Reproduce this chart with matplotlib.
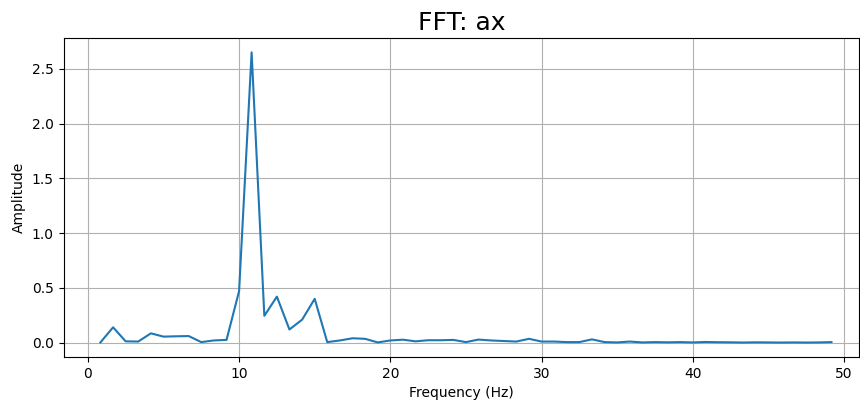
import matplotlib
matplotlib.use("Agg")
import matplotlib.pyplot as plt

# frequency bins (Hz)
freqs = [0.83, 1.67, 2.50, 3.33, 4.17, 5.00, 5.83, 6.67, 7.50, 8.33,
         9.17, 10.00, 10.83, 11.67, 12.50, 13.33, 14.17, 15.00, 15.83, 16.67,
         17.50, 18.33, 19.17, 20.00, 20.83, 21.67, 22.50, 23.33, 24.17, 25.00,
         25.83, 26.67, 27.50, 28.33, 29.17, 30.00, 30.83, 31.67, 32.50, 33.33,
         34.17, 35.00, 35.83, 36.67, 37.50, 38.33, 39.17, 40.00, 40.83, 41.67,
         42.50, 43.33, 44.17, 45.00, 45.83, 46.67, 47.50, 48.33, 49.17]

# amplitude per bin
amps = [0.002, 0.14, 0.012, 0.010, 0.085, 0.055, 0.058, 0.060, 0.005, 0.020,
        0.025, 0.47, 2.65, 0.245, 0.42, 0.12, 0.21, 0.40, 0.005, 0.020,
        0.040, 0.035, 0.002, 0.020, 0.027, 0.012, 0.022, 0.022, 0.025, 0.005,
        0.028, 0.020, 0.015, 0.010, 0.035, 0.010, 0.010, 0.005, 0.005, 0.030,
        0.005, 0.002, 0.010, 0.002, 0.005, 0.003, 0.005, 0.002, 0.006, 0.004,
        0.003, 0.001, 0.003, 0.002, 0.001, 0.002, 0.001, 0.002, 0.005]

fig, ax = plt.subplots(figsize=(8.6, 4.01), dpi=100)
ax.plot(freqs, amps, color="#1f77b4", linewidth=1.5)
ax.set_title("FFT: ax", fontsize=18)
ax.set_xlabel("Frequency (Hz)")
ax.set_ylabel("Amplitude")
ax.grid(True)
ax.set_xlim(-1.6, 51.0)
ax.set_ylim(-0.13, 2.78)
ax.set_xticks([0, 10, 20, 30, 40, 50])
fig.subplots_adjust(left=0.074, right=0.999, top=0.905, bottom=0.11)
fig.savefig("out.png", dpi=100)
